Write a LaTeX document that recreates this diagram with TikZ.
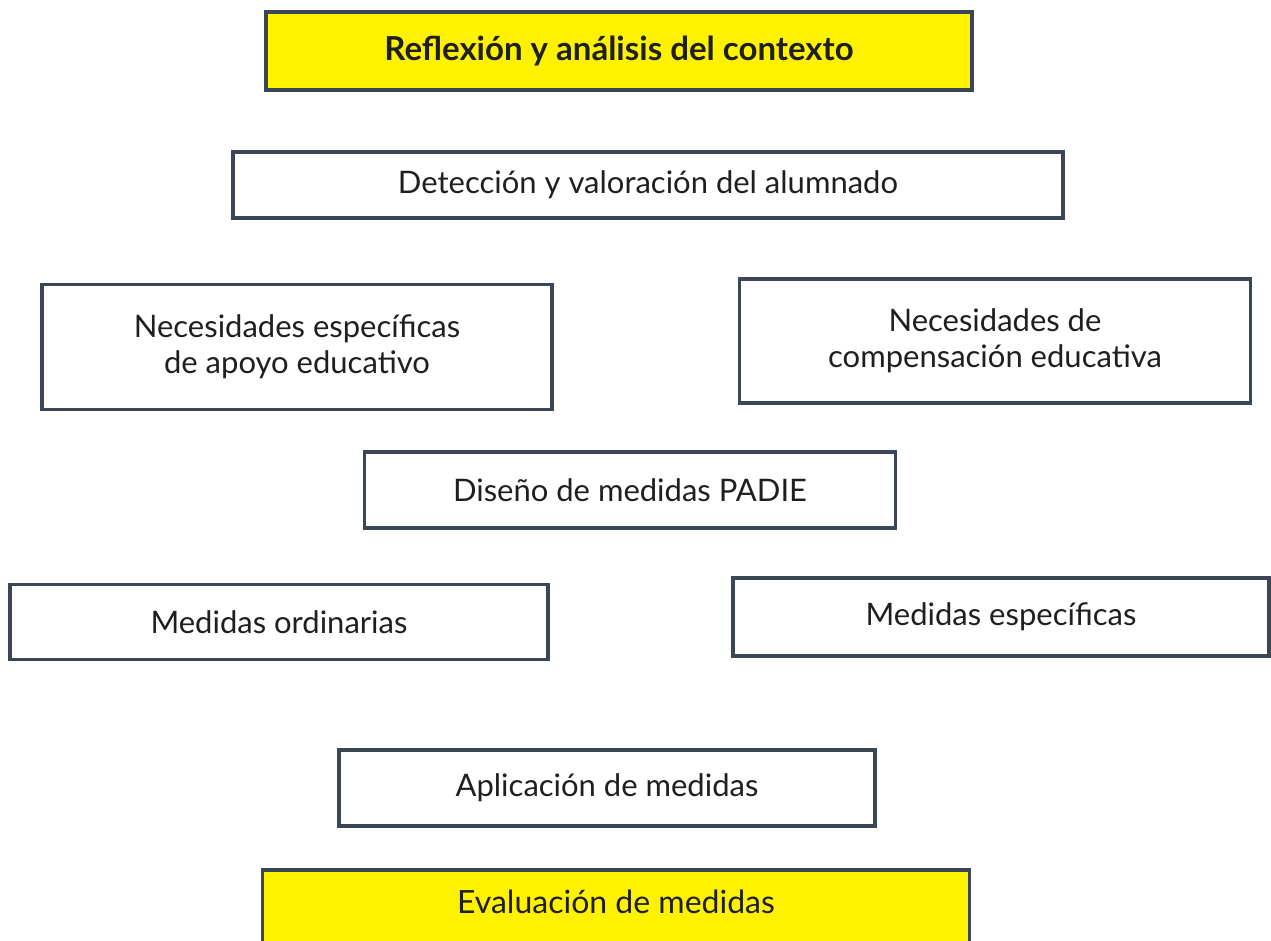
\documentclass[tikz,border=0pt]{standalone}
\usepackage{fontspec}
\setmainfont{Lato}
\begin{document}
\begin{tikzpicture}[x=1pt,y=-1pt,
  box/.style={draw=frame,line width=3.5pt,fill=white,inner sep=0pt,align=center,font=\fontsize{31}{36}\selectfont,text=black!88},
  ybox/.style={box,fill=hlyellow}]
\definecolor{frame}{HTML}{3B4656}
\definecolor{hlyellow}{HTML}{FFF200}
\useasboundingbox (0,0) rectangle (1271,941);
\node[ybox,minimum width=706pt,minimum height=78pt,font=\fontsize{33}{38}\bfseries] (refl) at (619,51) {Reflexión y análisis del contexto};
\node[box,minimum width=830pt,minimum height=66pt] (det) at (648,185) {Detección y valoración del alumnado};
\node[box,minimum width=510pt,minimum height=125pt] (nee) at (297,347) {Necesidades específicas\\de apoyo educativo};
\node[box,minimum width=511pt,minimum height=124pt] (nce) at (995,341) {Necesidades de\\compensación educativa};
\node[box,minimum width=531pt,minimum height=76pt] (dis) at (630,490) {Diseño de medidas PADIE};
\node[box,minimum width=538pt,minimum height=75pt] (ord) at (279,622) {Medidas ordinarias};
\node[box,minimum width=536pt,minimum height=78pt] (esp) at (1001,617) {Medidas específicas};
\node[box,minimum width=536pt,minimum height=76pt] (apl) at (607,788) {Aplicación de medidas};
\node[ybox,minimum width=707pt,minimum height=80pt,text height=22pt,text depth=15pt,font=\fontsize{32}{36}\selectfont] (eva) at (616,910) {Evaluación de medidas};
\end{tikzpicture}
\end{document}
